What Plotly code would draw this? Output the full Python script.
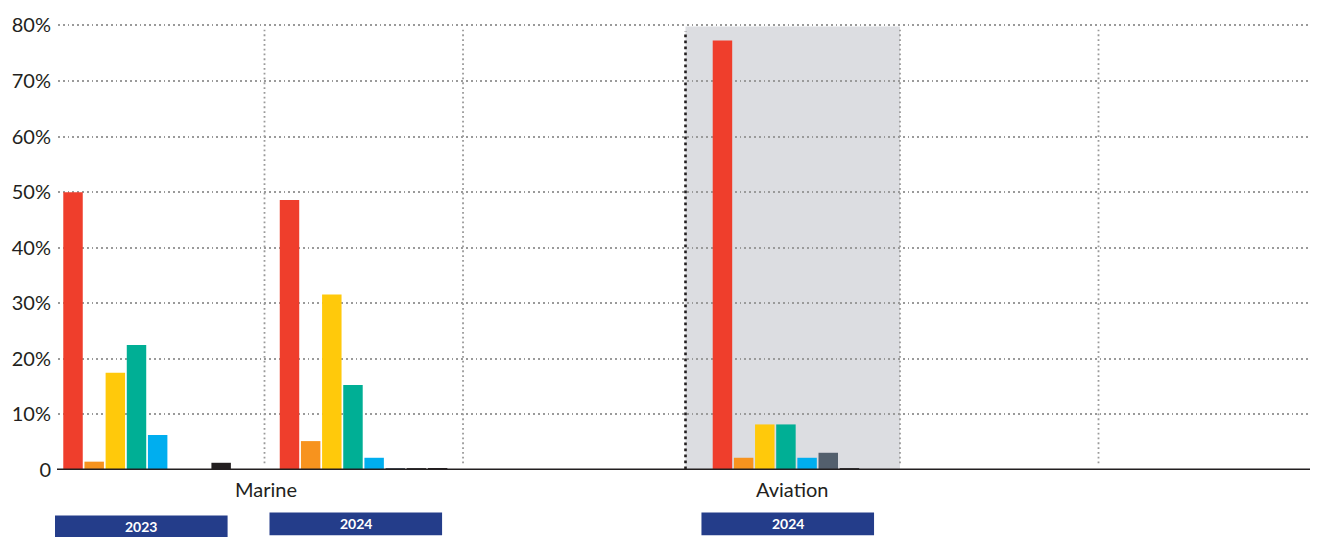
import plotly.graph_objects as go

# ---- data ----
categories = ["Marine 2023", "Marine 2024", " ", "Aviation 2024", "  ", "   "]
series_names = ["Series 1", "Series 2", "Series 3", "Series 4",
                "Series 5", "Series 6", "Series 7", "Series 8"]
series_colors = ["#EF3E2C", "#F7931E", "#FFC90B", "#00AF95",
                 "#00AEEF", "#535F6D", "#3A3A3C", "#231F20"]
values = {
    "Series 1": [50.0, 48.6, None, 77.3, None, None],
    "Series 2": [1.5, 5.2, None, 2.2, None, None],
    "Series 3": [17.5, 31.6, None, 8.2, None, None],
    "Series 4": [22.5, 15.3, None, 8.2, None, None],
    "Series 5": [6.3, 2.2, None, 2.2, None, None],
    "Series 6": [0.0, 0.2, None, 3.1, None, None],
    "Series 7": [0.0, 0.2, None, 0.2, None, None],
    "Series 8": [1.3, 0.2, None, 0.0, None, None],
}
y_tickvals = [0, 10, 20, 30, 40, 50, 60, 70, 80]
y_ticktext = ["0", "10%", "20%", "30%", "40%", "50%", "60%", "70%", "80%"]
sector_labels = ["Marine", "Aviation"]
year_labels = ["2023", "2024", "2024"]

W, H = 1322, 541
L, R, T, B = 55, 12, 14, 71
TOP_PX = 19.5   # pixel where the 80% line should sit
BASE_PX = H - B
pw, ph = W - L - R, H - T - B


def px(x):
    return (x - L) / pw


def py(y):
    return (BASE_PX - y) / ph


fig = go.Figure()
for name, color in zip(series_names, series_colors):
    fig.add_trace(go.Bar(x=categories, y=values[name], name=name,
                         marker=dict(color=color, line=dict(width=0))))

shapes = []
# shaded region
shapes.append(dict(type="rect", xref="paper", yref="y",
                   x0=px(684), x1=px(899), y0=-0.4, y1=79.8,
                   fillcolor="#DCDDE1", line=dict(width=0), layer="below"))
# gray dotted vertical separators
for xp in [262, 461, 899, 1098]:
    shapes.append(dict(type="line", xref="paper", yref="y",
                       x0=px(xp), x1=px(xp), y0=1.2, y1=79.2,
                       line=dict(color="#9A9A9A", width=1.8, dash="1.8px,3px"),
                       layer="below"))
# black dotted separator
shapes.append(dict(type="line", xref="paper", yref="y",
                   x0=px(684), x1=px(684), y0=-12.8, y1=79.0,
                   line=dict(color="#231F20", width=2.6, dash="2.6px,3.4px"),
                   layer="above"))
# baseline
shapes.append(dict(type="line", xref="paper", yref="y",
                   x0=px(54), x1=1, y0=0, y1=0,
                   line=dict(color="#231F20", width=3), layer="above"))
# year boxes
boxes = [(52, 225, 516, 538), (267, 440, 513, 536), (700, 873, 513, 536)]
annotations = []
for (x0, x1, y0, y1), lab in zip(boxes, year_labels):
    shapes.append(dict(type="rect", xref="paper", yref="paper",
                       x0=px(x0), x1=px(x1), y0=py(y1), y1=py(y0),
                       fillcolor="#243D8A", line=dict(width=0)))
    annotations.append(dict(xref="paper", yref="paper",
                            x=px((x0 + x1) / 2), y=py((y0 + y1) / 2),
                            text="<b>%s</b>" % lab, showarrow=False,
                            font=dict(family="Lato", size=14, color="white"),
                            xanchor="center", yanchor="middle"))
for lab, xc in zip(sector_labels, [263, 791]):
    annotations.append(dict(xref="paper", yref="paper", x=px(xc), y=py(489),
                            text=lab, showarrow=False,
                            font=dict(family="Lato", size=20, color="#231F20"),
                            xanchor="center", yanchor="middle"))

fig.update_layout(
    width=W, height=H,
    margin=dict(l=L, r=R, t=T, b=B, pad=0),
    paper_bgcolor="white", plot_bgcolor="rgba(0,0,0,0)",
    barmode="group", bargap=0.218, bargroupgap=0.08,
    showlegend=False,
    shapes=shapes, annotations=annotations,
    font=dict(family="Lato", color="#231F20"),
    xaxis=dict(type="category", categoryorder="array", categoryarray=categories,
               range=[-0.4115, 5.372], showticklabels=False, showgrid=False,
               zeroline=False, showline=False, ticks=""),
    yaxis=dict(range=[0, 80 * (BASE_PX - T) / (BASE_PX - TOP_PX)],
               tickvals=y_tickvals, ticktext=y_ticktext,
               showgrid=True, gridcolor="#9A9A9A", gridwidth=1.8,
               griddash="1.8px,3px",
               zeroline=False, showline=False, ticks="",
               tickfont=dict(family="Lato", size=20, color="#231F20"),
               ticklabelstandoff=6),
)

fig.write_html("out.html")
